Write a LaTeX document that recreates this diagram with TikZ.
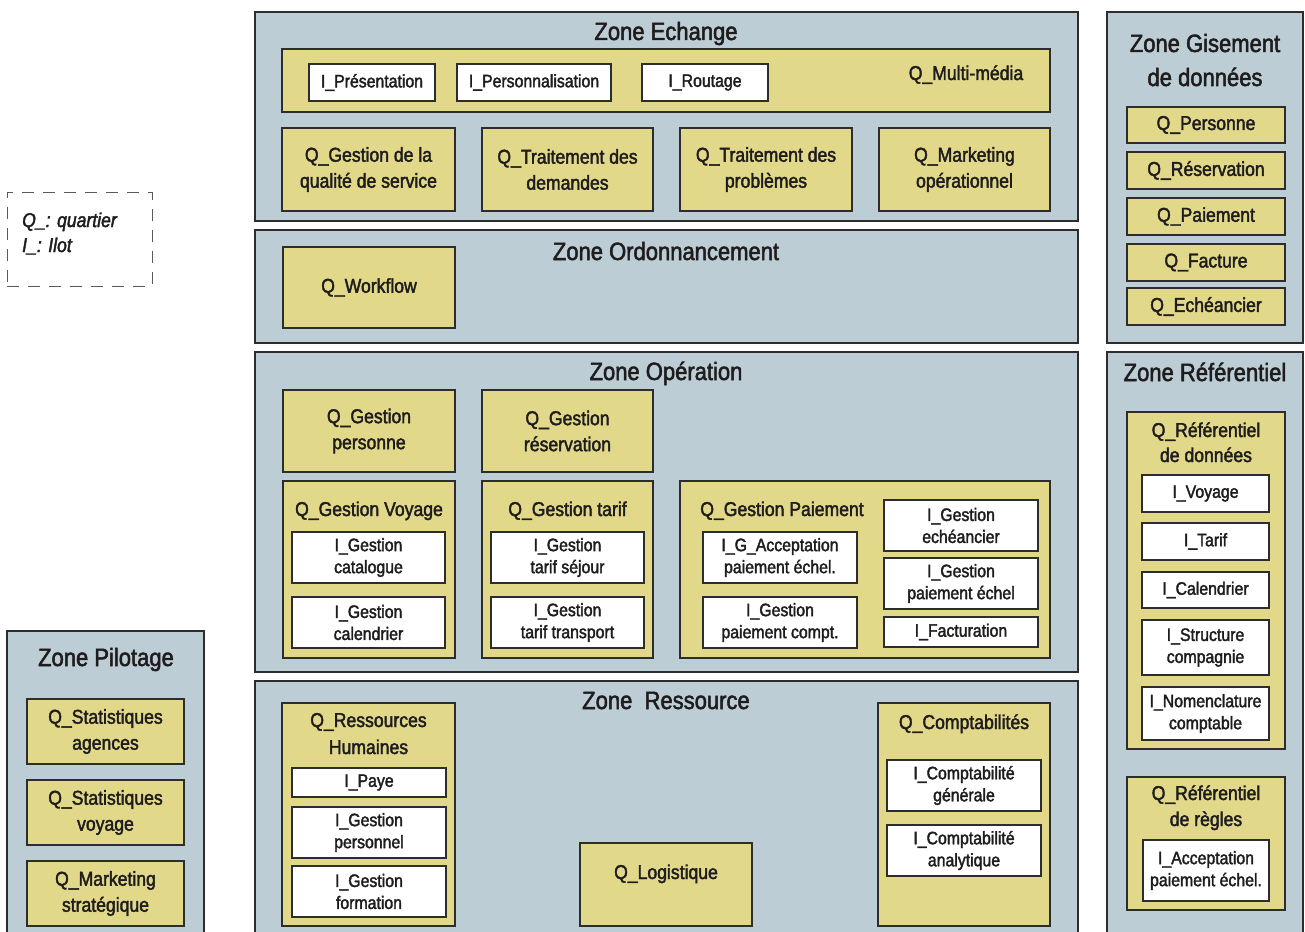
\documentclass[tikz,border=0pt]{standalone}
\usepackage{fontspec}
\newfontfamily\cond[FakeStretch=0.88,FakeBold=2]{Liberation Sans}
\definecolor{zonec}{RGB}{188,205,214}
\definecolor{qc}{RGB}{226,216,138}
\definecolor{linec}{RGB}{45,45,45}
\definecolor{textc}{RGB}{30,28,28}
\definecolor{legc}{RGB}{90,90,90}
\newcommand\zfont{\cond\fontsize{25}{33}\selectfont}
\newcommand\qfont{\cond\fontsize{20}{26}\selectfont}
\newcommand\ifont{\cond\fontsize{18}{22}\selectfont}
\newcommand\lfont{\cond\itshape\fontsize{20}{25}\selectfont}
\newcommand\bx[7]{%
  \pgfmathsetmacro\bcx{(#3+#5)/2}\pgfmathsetmacro\bcy{(#4+#6)/2}%
  \pgfmathsetmacro\bw{#5-#3}\pgfmathsetmacro\bh{#6-#4}%
  \node[#1, minimum width=\bw pt, minimum height=\bh pt] (#2) at (\bcx,\bcy) {#7};}
\begin{document}
\begin{tikzpicture}[x=1pt,y=-1pt,
  zone/.style={draw=linec, fill=zonec, line width=1.3pt, inner sep=0pt},
  qbox/.style={draw=linec, fill=qc, line width=1.3pt, inner sep=0pt, align=center, font=\qfont, text=textc},
  ibox/.style={draw=linec, fill=white, line width=1.3pt, inner sep=0pt, align=center, font=\ifont, text=textc},
  legend/.style={draw=legc, line width=1pt, dash pattern=on 12pt off 9pt, inner sep=0pt},
  ztitle/.style={anchor=base, inner sep=0pt, font=\zfont, text=textc},
  qtitle/.style={anchor=base, inner sep=0pt, font=\qfont, text=textc},
  ltext/.style={anchor=base west, inner sep=0pt, font=\lfont, text=textc},
]
\clip (0,0) rectangle (1305,931);
\fill[white] (0,0) rectangle (1305,931);

% zones
\bx{zone}{zEch}{255}{12}{1078}{221}{}
\bx{zone}{zOrd}{255}{230}{1078}{343}{}
\bx{zone}{zOpe}{255}{352}{1078}{672}{}
\bx{zone}{zRes}{255}{681}{1078}{945}{}
\bx{zone}{zGis}{1107}{12}{1303}{343}{}
\bx{zone}{zRef}{1107}{352}{1303}{945}{}
\bx{zone}{zPil}{7}{631}{204}{945}{}
\bx{legend}{leg}{7}{192}{152}{286}{}

\node[ztitle] (tEch) at (666,40) {Zone Echange};
\node[ztitle] (tOrd) at (666,260) {Zone Ordonnancement};
\node[ztitle] (tOpe) at (666,380) {Zone Opération};
\node[ztitle] (tRes) at (666,709) {Zone~~Ressource};
\node[ztitle] (tGis1) at (1205,52) {Zone Gisement};
\node[ztitle] (tGis2) at (1205,86) {de données};
\node[ztitle] (tRef) at (1205,381) {Zone Référentiel};
\node[ztitle] (tPil) at (106,666) {Zone Pilotage};

% legend
\node[ltext] (l1) at (22,227) {Q\_: quartier};
\node[ltext] (l2) at (22,252) {I\_: Ilot};

% Zone Echange
\bx{qbox}{qMM}{282}{49}{1050}{112}{}
\node[qtitle] (tMM) at (966,80) {Q\_Multi-média};
\bx{ibox}{iPres}{309}{64}{435}{101}{I\_Présentation}
\bx{ibox}{iPers}{457}{64}{611}{101}{I\_Personnalisation}
\bx{ibox}{iRout}{642}{64}{768}{101}{I\_Routage}
\bx{qbox}{qGQS}{282}{128}{455}{211}{Q\_Gestion de la\\qualité de service}
\bx{qbox}{qTD}{482}{128}{653}{211}{Q\_Traitement des\\demandes}
\bx{qbox}{qTP}{680}{128}{852}{211}{Q\_Traitement des\\problèmes}
\bx{qbox}{qMO}{879}{128}{1050}{211}{Q\_Marketing\\opérationnel}

% Zone Ordonnancement
\bx{qbox}{qWF}{283}{247}{455}{328}{Q\_Workflow}

% Zone Operation
\bx{qbox}{qGP}{283}{390}{455}{472}{Q\_Gestion\\personne}
\bx{qbox}{qGR}{482}{390}{653}{472}{Q\_Gestion\\réservation}
\bx{qbox}{qGV}{283}{481}{455}{658}{}
\node[qtitle] (tGV) at (369,516) {Q\_Gestion Voyage};
\bx{ibox}{iGCat}{292}{532}{445}{583}{I\_Gestion\\catalogue}
\bx{ibox}{iGCal}{292}{597}{445}{648}{I\_Gestion\\calendrier}
\bx{qbox}{qGT}{482}{481}{653}{658}{}
\node[qtitle] (tGT) at (567.5,516) {Q\_Gestion tarif};
\bx{ibox}{iGTS}{491}{532}{644}{583}{I\_Gestion\\tarif séjour}
\bx{ibox}{iGTT}{491}{597}{644}{648}{I\_Gestion\\tarif transport}
\bx{qbox}{qGPa}{680}{481}{1050}{658}{}
\node[qtitle] (tGPa) at (782,516) {Q\_Gestion Paiement};
\bx{ibox}{iGAcc}{703}{532}{857}{583}{I\_G\_Acceptation\\paiement échel.}
\bx{ibox}{iGPC}{703}{597}{857}{648}{I\_Gestion\\paiement compt.}
\bx{ibox}{iGEch}{884}{500}{1038}{551}{I\_Gestion\\echéancier}
\bx{ibox}{iGPE}{884}{558}{1038}{609}{I\_Gestion\\paiement échel}
\bx{ibox}{iFact}{884}{617}{1038}{647}{I\_Facturation}

% Zone Ressource
\bx{qbox}{qRH}{282}{703}{455}{926}{}
\node[qtitle] (tRH1) at (368.5,727) {Q\_Ressources};
\node[qtitle] (tRH2) at (368.5,754) {Humaines};
\bx{ibox}{iPaye}{292}{768}{446}{797}{I\_Paye}
\bx{ibox}{iGPer}{292}{807}{446}{858}{I\_Gestion\\personnel}
\bx{ibox}{iGFor}{292}{866}{446}{917}{I\_Gestion\\formation}
\bx{qbox}{qLog}{580}{843}{752}{926}{}
\node[qtitle] (tLog) at (666,879) {Q\_Logistique};
\bx{qbox}{qCpt}{878}{703}{1050}{926}{}
\node[qtitle] (tCpt) at (964,729) {Q\_Comptabilités};
\bx{ibox}{iCG}{887}{760}{1041}{811}{I\_Comptabilité\\générale}
\bx{ibox}{iCA}{887}{825}{1041}{876}{I\_Comptabilité\\analytique}

% Zone Gisement
\bx{qbox}{qPer}{1127}{107}{1285}{143}{Q\_Personne}
\bx{qbox}{qRes}{1127}{152}{1285}{189}{Q\_Réservation}
\bx{qbox}{qPai}{1127}{198}{1285}{235}{Q\_Paiement}
\bx{qbox}{qFac}{1127}{244}{1285}{281}{Q\_Facture}
\bx{qbox}{qEch}{1127}{288}{1285}{325}{Q\_Echéancier}

% Zone Referentiel
\bx{qbox}{qRD}{1127}{412}{1285}{749}{}
\node[qtitle] (tRD1) at (1206,437) {Q\_Référentiel};
\node[qtitle] (tRD2) at (1206,462) {de données};
\bx{ibox}{iVoy}{1142}{475}{1269}{512}{I\_Voyage}
\bx{ibox}{iTar}{1142}{523}{1269}{560}{I\_Tarif}
\bx{ibox}{iCal}{1142}{572}{1269}{608}{I\_Calendrier}
\bx{ibox}{iStr}{1142}{620}{1269}{675}{I\_Structure\\compagnie}
\bx{ibox}{iNom}{1142}{687}{1269}{740}{I\_Nomenclature\\comptable}
\bx{qbox}{qRR}{1127}{777}{1285}{910}{}
\node[qtitle] (tRR1) at (1206,800) {Q\_Référentiel};
\node[qtitle] (tRR2) at (1206,826) {de règles};
\bx{ibox}{iAcc}{1143}{840}{1269}{901}{I\_Acceptation\\paiement échel.}

% Zone Pilotage
\bx{qbox}{qSA}{27}{699}{184}{764}{Q\_Statistiques\\agences}
\bx{qbox}{qSV}{27}{780}{184}{845}{Q\_Statistiques\\voyage}
\bx{qbox}{qMS}{27}{861}{184}{926}{Q\_Marketing\\stratégique}
\end{tikzpicture}
\end{document}
